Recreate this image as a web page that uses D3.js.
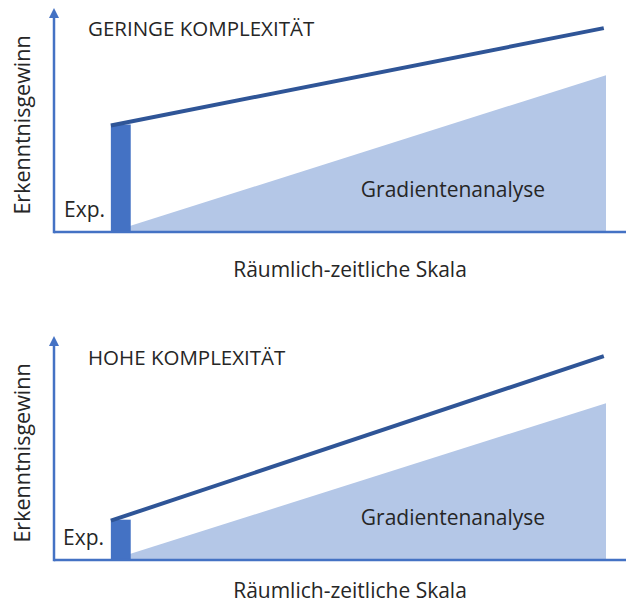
<!DOCTYPE html>
<html>
<head>
<meta charset="utf-8">
<script src="https://cdn.jsdelivr.net/npm/d3@7"></script>
<style>
  html, body { margin: 0; padding: 0; background: #fff; }
  text { font-family: "Open Sans", "Noto Sans", sans-serif; fill: #262626; }
</style>
</head>
<body>
<div id="chart"></div>
<script>
// Werte der beiden Schemata (0..100 relative Einheiten)
const panelTitles = ['GERINGE KOMPLEXITÄT', 'HOHE KOMPLEXITÄT'];
const expValues = [48, 18];          // Hoehe des Experiment-Balkens
const lineEndValues = [91, 91];      // Endpunkt der dunklen Linie
const gradientEndValues = [70, 70];  // Hoehe des Gradientenanalyse-Dreiecks
const expRange = [10.3, 13.9];       // Position des Balkens auf der Skala
const lineEndX = 99.6;
const gradientEndX = 100;

const yLabel = 'Erkenntnisgewinn';
const xLabel = 'Räumlich-zeitliche Skala';
const expLabel = 'Exp.';
const gradientLabel = 'Gradientenanalyse';

const width = 626, height = 607;
const panelOffset = 328;

const svg = d3.select('#chart')
  .append('svg')
  .attr('width', width)
  .attr('height', height);

const x = d3.scaleLinear().domain([0, 100]).range([54, 606]);
const y = d3.scaleLinear().domain([0, 100]).range([232, 8]);

const axisColor = '#4472C4';

panelTitles.forEach((title, i) => {
  const g = svg.append('g')
    .attr('transform', `translate(0,${i * panelOffset})`);

  // Gradientenanalyse Dreieck
  g.append('path')
    .attr('d', d3.line()([
      [x(expRange[0]), y(0)],
      [x(gradientEndX), y(gradientEndValues[i])],
      [x(gradientEndX), y(0)]
    ]) + 'Z')
    .style('fill', '#B4C7E7');

  // Experiment-Balken
  g.append('rect')
    .attr('x', x(expRange[0]))
    .attr('y', y(expValues[i]))
    .attr('width', x(expRange[1]) - x(expRange[0]))
    .attr('height', y(0) - y(expValues[i]))
    .style('fill', '#4472C4');

  // dunkle Linie
  g.append('line')
    .attr('x1', x(expRange[0]))
    .attr('y1', y(expValues[i]) + 1)
    .attr('x2', x(lineEndX))
    .attr('y2', y(lineEndValues[i]))
    .style('stroke', '#2F5597')
    .style('stroke-width', 4);

  // Achsen
  g.append('line')
    .attr('x1', x(0))
    .attr('y1', y(0))
    .attr('x2', width)
    .attr('y2', y(0))
    .style('stroke', axisColor)
    .style('stroke-width', 2.5);

  g.append('line')
    .attr('x1', x(0))
    .attr('y1', y(0) + 1.25)
    .attr('x2', x(0))
    .attr('y2', y(100) + 6)
    .style('stroke', axisColor)
    .style('stroke-width', 2.5);

  g.append('path')
    .attr('d', `M${x(0)},${y(100)} L${x(0) + 5},${y(100) + 10} L${x(0) - 5},${y(100) + 10} Z`)
    .style('fill', axisColor);

  // Texte
  g.append('text')
    .attr('x', 88)
    .attr('y', 36 + i)
    .style('font-size', '20.5px')
    .text(title);

  g.append('text')
    .attr('x', i === 0 ? 64 : 63)
    .attr('y', 217)
    .style('font-size', '21px')
    .text(expLabel);

  g.append('text')
    .attr('x', 453)
    .attr('y', 197)
    .attr('text-anchor', 'middle')
    .style('font-size', '21px')
    .text(gradientLabel);

  g.append('text')
    .attr('x', 350)
    .attr('y', i === 0 ? 277 : 270)
    .attr('text-anchor', 'middle')
    .style('font-size', '21px')
    .text(xLabel);

  g.append('text')
    .attr('transform', `translate(30,125) rotate(-90)`)
    .attr('text-anchor', 'middle')
    .style('font-size', '21.5px')
    .text(yLabel);
});
</script>
</body>
</html>
